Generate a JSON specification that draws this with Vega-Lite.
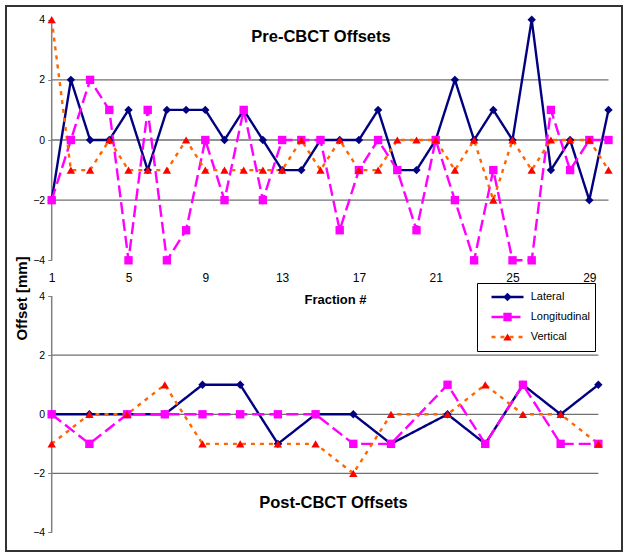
{
  "$schema": "https://vega.github.io/schema/vega-lite/v6.json",
  "width": 629,
  "height": 558,
  "autosize": {"type": "fit", "contains": "padding"},
  "padding": {"left": 6, "top": 6, "right": 7, "bottom": 7},
  "background": "white",
  "config": {
    "font": "Liberation Sans",
    "view": {"stroke": "#333333", "strokeWidth": 2},
    "axis": {"grid": false, "labelColor": "#000000", "labelFont": "Liberation Sans", "titleFont": "Liberation Sans", "titleColor": "#000000"},
    "legend": {"labelFont": "Liberation Sans"}
  },
  "title": {"text": "Pre-CBCT Offsets", "anchor": "middle", "frame": "group", "offset": -47, "dx": 7, "baseline": "middle", "fontSize": 16.5, "fontWeight": "bold", "font": "Liberation Sans", "color": "#000000"},
  "datasets": {
    "pre": [
      {"fraction": 1, "series": "Lateral", "offset": -2}, {"fraction": 2, "series": "Lateral", "offset": 2}, {"fraction": 3, "series": "Lateral", "offset": 0}, {"fraction": 4, "series": "Lateral", "offset": 0}, {"fraction": 5, "series": "Lateral", "offset": 1}, {"fraction": 6, "series": "Lateral", "offset": -1}, {"fraction": 7, "series": "Lateral", "offset": 1}, {"fraction": 8, "series": "Lateral", "offset": 1}, {"fraction": 9, "series": "Lateral", "offset": 1}, {"fraction": 10, "series": "Lateral", "offset": 0}, {"fraction": 11, "series": "Lateral", "offset": 1}, {"fraction": 12, "series": "Lateral", "offset": 0}, {"fraction": 13, "series": "Lateral", "offset": -1}, {"fraction": 14, "series": "Lateral", "offset": -1}, {"fraction": 15, "series": "Lateral", "offset": 0}, {"fraction": 16, "series": "Lateral", "offset": 0}, {"fraction": 17, "series": "Lateral", "offset": 0}, {"fraction": 18, "series": "Lateral", "offset": 1}, {"fraction": 19, "series": "Lateral", "offset": -1}, {"fraction": 20, "series": "Lateral", "offset": -1}, {"fraction": 21, "series": "Lateral", "offset": 0}, {"fraction": 22, "series": "Lateral", "offset": 2}, {"fraction": 23, "series": "Lateral", "offset": 0}, {"fraction": 24, "series": "Lateral", "offset": 1}, {"fraction": 25, "series": "Lateral", "offset": 0}, {"fraction": 26, "series": "Lateral", "offset": 4}, {"fraction": 27, "series": "Lateral", "offset": -1}, {"fraction": 28, "series": "Lateral", "offset": 0}, {"fraction": 29, "series": "Lateral", "offset": -2}, {"fraction": 30, "series": "Lateral", "offset": 1},
      {"fraction": 1, "series": "Longitudinal", "offset": -2}, {"fraction": 2, "series": "Longitudinal", "offset": 0}, {"fraction": 3, "series": "Longitudinal", "offset": 2}, {"fraction": 4, "series": "Longitudinal", "offset": 1}, {"fraction": 5, "series": "Longitudinal", "offset": -4}, {"fraction": 6, "series": "Longitudinal", "offset": 1}, {"fraction": 7, "series": "Longitudinal", "offset": -4}, {"fraction": 8, "series": "Longitudinal", "offset": -3}, {"fraction": 9, "series": "Longitudinal", "offset": 0}, {"fraction": 10, "series": "Longitudinal", "offset": -2}, {"fraction": 11, "series": "Longitudinal", "offset": 1}, {"fraction": 12, "series": "Longitudinal", "offset": -2}, {"fraction": 13, "series": "Longitudinal", "offset": 0}, {"fraction": 14, "series": "Longitudinal", "offset": 0}, {"fraction": 15, "series": "Longitudinal", "offset": 0}, {"fraction": 16, "series": "Longitudinal", "offset": -3}, {"fraction": 17, "series": "Longitudinal", "offset": -1}, {"fraction": 18, "series": "Longitudinal", "offset": 0}, {"fraction": 19, "series": "Longitudinal", "offset": -1}, {"fraction": 20, "series": "Longitudinal", "offset": -3}, {"fraction": 21, "series": "Longitudinal", "offset": 0}, {"fraction": 22, "series": "Longitudinal", "offset": -2}, {"fraction": 23, "series": "Longitudinal", "offset": -4}, {"fraction": 24, "series": "Longitudinal", "offset": -1}, {"fraction": 25, "series": "Longitudinal", "offset": -4}, {"fraction": 26, "series": "Longitudinal", "offset": -4}, {"fraction": 27, "series": "Longitudinal", "offset": 1}, {"fraction": 28, "series": "Longitudinal", "offset": -1}, {"fraction": 29, "series": "Longitudinal", "offset": 0}, {"fraction": 30, "series": "Longitudinal", "offset": 0},
      {"fraction": 1, "series": "Vertical", "offset": 4}, {"fraction": 2, "series": "Vertical", "offset": -1}, {"fraction": 3, "series": "Vertical", "offset": -1}, {"fraction": 4, "series": "Vertical", "offset": 0}, {"fraction": 5, "series": "Vertical", "offset": -1}, {"fraction": 6, "series": "Vertical", "offset": -1}, {"fraction": 7, "series": "Vertical", "offset": -1}, {"fraction": 8, "series": "Vertical", "offset": 0}, {"fraction": 9, "series": "Vertical", "offset": -1}, {"fraction": 10, "series": "Vertical", "offset": -1}, {"fraction": 11, "series": "Vertical", "offset": -1}, {"fraction": 12, "series": "Vertical", "offset": -1}, {"fraction": 13, "series": "Vertical", "offset": -1}, {"fraction": 14, "series": "Vertical", "offset": 0}, {"fraction": 15, "series": "Vertical", "offset": -1}, {"fraction": 16, "series": "Vertical", "offset": 0}, {"fraction": 17, "series": "Vertical", "offset": -1}, {"fraction": 18, "series": "Vertical", "offset": -1}, {"fraction": 19, "series": "Vertical", "offset": 0}, {"fraction": 20, "series": "Vertical", "offset": 0}, {"fraction": 21, "series": "Vertical", "offset": 0}, {"fraction": 22, "series": "Vertical", "offset": -1}, {"fraction": 23, "series": "Vertical", "offset": 0}, {"fraction": 24, "series": "Vertical", "offset": -2}, {"fraction": 25, "series": "Vertical", "offset": 0}, {"fraction": 26, "series": "Vertical", "offset": -1}, {"fraction": 27, "series": "Vertical", "offset": 0}, {"fraction": 28, "series": "Vertical", "offset": 0}, {"fraction": 29, "series": "Vertical", "offset": 0}, {"fraction": 30, "series": "Vertical", "offset": -1}
    ],
    "post": [
      {"fraction": 1, "series": "Lateral", "offset": 0}, {"fraction": 3, "series": "Lateral", "offset": 0}, {"fraction": 5, "series": "Lateral", "offset": 0}, {"fraction": 7, "series": "Lateral", "offset": 0}, {"fraction": 9, "series": "Lateral", "offset": 1}, {"fraction": 11, "series": "Lateral", "offset": 1}, {"fraction": 13, "series": "Lateral", "offset": -1}, {"fraction": 15, "series": "Lateral", "offset": 0}, {"fraction": 17, "series": "Lateral", "offset": 0}, {"fraction": 19, "series": "Lateral", "offset": -1}, {"fraction": 22, "series": "Lateral", "offset": 0}, {"fraction": 24, "series": "Lateral", "offset": -1}, {"fraction": 26, "series": "Lateral", "offset": 1}, {"fraction": 28, "series": "Lateral", "offset": 0}, {"fraction": 30, "series": "Lateral", "offset": 1},
      {"fraction": 1, "series": "Longitudinal", "offset": 0}, {"fraction": 3, "series": "Longitudinal", "offset": -1}, {"fraction": 5, "series": "Longitudinal", "offset": 0}, {"fraction": 7, "series": "Longitudinal", "offset": 0}, {"fraction": 9, "series": "Longitudinal", "offset": 0}, {"fraction": 11, "series": "Longitudinal", "offset": 0}, {"fraction": 13, "series": "Longitudinal", "offset": 0}, {"fraction": 15, "series": "Longitudinal", "offset": 0}, {"fraction": 17, "series": "Longitudinal", "offset": -1}, {"fraction": 19, "series": "Longitudinal", "offset": -1}, {"fraction": 22, "series": "Longitudinal", "offset": 1}, {"fraction": 24, "series": "Longitudinal", "offset": -1}, {"fraction": 26, "series": "Longitudinal", "offset": 1}, {"fraction": 28, "series": "Longitudinal", "offset": -1}, {"fraction": 30, "series": "Longitudinal", "offset": -1},
      {"fraction": 1, "series": "Vertical", "offset": -1}, {"fraction": 3, "series": "Vertical", "offset": 0}, {"fraction": 5, "series": "Vertical", "offset": 0}, {"fraction": 7, "series": "Vertical", "offset": 1}, {"fraction": 9, "series": "Vertical", "offset": -1}, {"fraction": 11, "series": "Vertical", "offset": -1}, {"fraction": 13, "series": "Vertical", "offset": -1}, {"fraction": 15, "series": "Vertical", "offset": -1}, {"fraction": 17, "series": "Vertical", "offset": -2}, {"fraction": 19, "series": "Vertical", "offset": 0}, {"fraction": 22, "series": "Vertical", "offset": 0}, {"fraction": 24, "series": "Vertical", "offset": 1}, {"fraction": 26, "series": "Vertical", "offset": 0}, {"fraction": 28, "series": "Vertical", "offset": 0}, {"fraction": 30, "series": "Vertical", "offset": -1}
    ]
  },
  "layer": [
    {
      "data": {"name": "pre"},
      "layer": [
        {
          "data": {"values": [{"tick": -2}, {"tick": 0}, {"tick": 2}]},
          "mark": {"type": "rule", "color": "#707070", "strokeWidth": 1.3},
          "encoding": {
            "y": {"field": "tick", "type": "quantitative"},
            "x": {"datum": 1},
            "x2": {"datum": 30}
          }
        },
        {
          "data": {"values": [{}]},
          "mark": {"type": "rule", "color": "#808080", "strokeWidth": 1.5},
          "encoding": {
            "x": {"datum": 1},
            "y": {"datum": -4},
            "y2": {"datum": 4}
          }
        },
        {
          "mark": {"type": "line", "strokeWidth": 2.4},
          "encoding": {
            "x": {"field": "fraction", "type": "quantitative", "scale": {"domain": [-1.38, 30.703], "nice": false, "zero": false},
              "axis": {"orient": "bottom", "offset": -291, "values": [1, 5, 9, 13, 17, 21, 25, 29], "domain": false, "ticks": false, "grid": false, "labelFontSize": 12, "labelPadding": 12, "title": "Fraction #", "titleX": 329, "titleY": 39, "titleBaseline": "middle", "titleAlign": "center", "titleFontSize": 13, "titleFontWeight": "bold"}},
            "y": {"field": "offset", "type": "quantitative", "scale": {"domain": [-13.664, 4.455], "nice": false, "zero": false},
              "axis": {"orient": "left", "offset": -45.7, "values": [-4, -2, 0, 2, 4], "domain": false, "grid": false, "tickSize": 4, "tickColor": "#808080", "labelFontSize": 10.5, "labelPadding": 3, "title": "Offset [mm]", "titleX": -30, "titleY": 292, "titleAngle": 270, "titleBaseline": "middle", "titleAlign": "center", "titleFontSize": 15, "titleFontWeight": "bold"}},
            "color": {"field": "series", "type": "nominal", "scale": {"domain": ["Lateral", "Longitudinal", "Vertical"], "range": ["#000080", "#FF00FF", "#FF6600"]},
              "legend": {"orient": "none", "legendX": 471, "legendY": 277, "title": null, "symbolType": "stroke", "symbolSize": 1024, "symbolStrokeWidth": 2.5, "symbolOffset": 9, "labelOffset": 5.7, "labelFontSize": 11, "labelColor": "#000000", "padding": 4, "rowPadding": 0, "clipHeight": 20, "fillColor": "#ffffff", "strokeColor": "#000000"}},
            "strokeDash": {"field": "series", "type": "nominal", "scale": {"domain": ["Lateral", "Longitudinal", "Vertical"], "range": [[1, 0], [12, 5], [4, 5]]},
              "legend": {"orient": "none", "legendX": 471, "legendY": 277, "title": null, "symbolType": "stroke", "symbolSize": 1024, "symbolStrokeWidth": 2.5, "symbolOffset": 9, "labelOffset": 5.7, "labelFontSize": 11, "labelColor": "#000000", "padding": 4, "rowPadding": 0, "clipHeight": 20, "fillColor": "#ffffff", "strokeColor": "#000000"}}
          }
        },
        {
          "mark": {"type": "point", "filled": true, "size": 70, "opacity": 1, "strokeWidth": 0},
          "encoding": {
            "x": {"field": "fraction", "type": "quantitative"},
            "y": {"field": "offset", "type": "quantitative"},
            "fill": {"field": "series", "type": "nominal", "scale": {"range": ["#000080", "#FF00FF", "#FF0000"]},
              "legend": {"orient": "none", "legendX": 471, "legendY": 277, "title": null, "symbolSize": 70, "symbolStrokeWidth": 0, "symbolOpacity": 1, "symbolOffset": 21, "labelOffset": 5.7, "labelFontSize": 11, "labelExpr": "''", "padding": 4, "rowPadding": 0, "clipHeight": 20}},
            "shape": {"field": "series", "type": "nominal", "scale": {"range": ["diamond", "square", "triangle-up"]},
              "legend": {"orient": "none", "legendX": 471, "legendY": 277, "title": null, "symbolSize": 70, "symbolStrokeWidth": 0, "symbolOpacity": 1, "symbolOffset": 21, "labelOffset": 5.7, "labelFontSize": 11, "labelExpr": "''", "padding": 4, "rowPadding": 0, "clipHeight": 20}}
          }
        }
      ]
    },
    {
      "data": {"name": "post"},
      "layer": [
        {
          "data": {"values": [{"tick": -2}, {"tick": 0}, {"tick": 2}]},
          "mark": {"type": "rule", "color": "#707070", "strokeWidth": 1.3},
          "encoding": {
            "y": {"field": "tick", "type": "quantitative"},
            "x": {"datum": 1},
            "x2": {"datum": 30}
          }
        },
        {
          "data": {"values": [{}]},
          "mark": {"type": "rule", "color": "#808080", "strokeWidth": 1.5},
          "encoding": {
            "x": {"datum": 1},
            "y": {"datum": -4},
            "y2": {"datum": 4}
          }
        },
        {
          "mark": {"type": "line", "strokeWidth": 2.4},
          "encoding": {
            "x": {"field": "fraction", "type": "quantitative", "scale": {"domain": [-1.424, 31.255], "nice": false, "zero": false},
              "axis": {"orient": "bottom", "offset": 0, "labels": false, "domain": false, "ticks": false, "grid": false, "title": "Post-CBCT Offsets", "titleX": 327, "titleY": -49, "titleBaseline": "middle", "titleAlign": "center", "titleFontSize": 16.5, "titleFontWeight": "bold"}},
            "y": {"field": "offset", "type": "quantitative", "scale": {"domain": [-4.628, 13.822], "nice": false, "zero": false},
              "axis": {"orient": "left", "offset": -45.7, "values": [-4, -2, 0, 2, 4], "domain": false, "grid": false, "tickSize": 4, "tickColor": "#808080", "labelFontSize": 10.5, "labelPadding": 3, "title": null}},
            "color": {"field": "series", "type": "nominal", "scale": {"domain": ["Lateral", "Longitudinal", "Vertical"], "range": ["#000080", "#FF00FF", "#FF6600"]}},
            "strokeDash": {"field": "series", "type": "nominal", "scale": {"domain": ["Lateral", "Longitudinal", "Vertical"], "range": [[1, 0], [12, 5], [4, 5]]}}
          }
        },
        {
          "mark": {"type": "point", "filled": true, "size": 70, "opacity": 1, "strokeWidth": 0},
          "encoding": {
            "x": {"field": "fraction", "type": "quantitative"},
            "y": {"field": "offset", "type": "quantitative"},
            "fill": {"field": "series", "type": "nominal", "scale": {"range": ["#000080", "#FF00FF", "#FF0000"]}},
            "shape": {"field": "series", "type": "nominal", "scale": {"range": ["diamond", "square", "triangle-up"]}}
          }
        }
      ],
      "resolve": {"scale": {"x": "shared", "y": "shared"}}
    }
  ],
  "resolve": {"scale": {"x": "independent", "y": "independent"}}
}
